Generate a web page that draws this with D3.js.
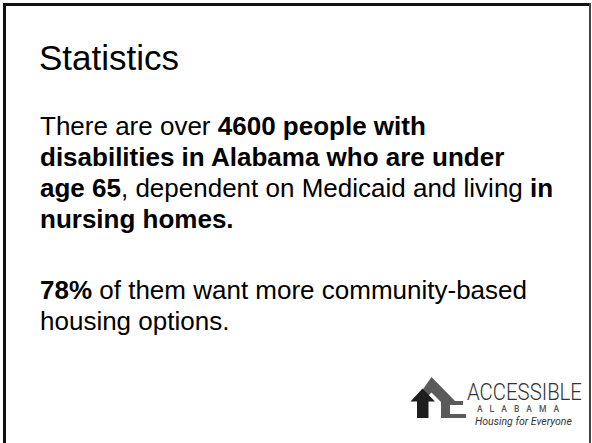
<!DOCTYPE html>
<html><head><meta charset="utf-8">
<script src="https://cdn.jsdelivr.net/npm/d3@7"></script>
<style>html,body{margin:0;padding:0;background:#fff;overflow:hidden}</style>
</head><body>
<script>
// Slide content (text segments: [text, bold])
const title = "Statistics";
const paragraph1 = [
  [["There are over ", false], ["4600 people with", true]],
  [["disabilities in Alabama who are under", true]],
  [["age 65", true], [", dependent on Medicaid and living ", false], ["in", true]],
  [["nursing homes.", true]]
];
const paragraph2 = [
  [["78%", true], [" of them want more community-based", false]],
  [["housing options.", false]]
];
const logoWords = ["ACCESSIBLE", "ALABAMA", "Housing for Everyone"];

const W = 592, H = 443;
const svg = d3.select("body").append("svg").attr("width", W).attr("height", H);
svg.append("rect").attr("width", W).attr("height", H).attr("fill", "#fff");

// frame
svg.append("line").attr("x1", 4.5).attr("x2", 4.5).attr("y1", 3).attr("y2", H).attr("stroke", "#111").attr("stroke-width", 3);
svg.append("line").attr("x1", 3).attr("x2", 591).attr("y1", 4.5).attr("y2", 4.5).attr("stroke", "#111").attr("stroke-width", 3);
svg.append("line").attr("x1", 590).attr("x2", 590).attr("y1", 3).attr("y2", H).attr("stroke", "#444").attr("stroke-width", 2);

const font = "'Liberation Sans', Arial, sans-serif";
svg.append("text").attr("x", 39).attr("y", 70).attr("font-family", font)
  .attr("font-size", 35).attr("fill", "#000").text(title);

function drawPara(lines, y0, step) {
  lines.forEach((segs, i) => {
    const t = svg.append("text").attr("x", 40).attr("y", y0 + i * step)
      .attr("font-family", font).attr("font-size", 26).attr("fill", "#000");
    segs.forEach(([s, b]) => {
      t.append("tspan").attr("font-weight", b ? "bold" : "normal").text(s);
    });
  });
}
drawPara(paragraph1, 134.5, 31);
drawPara(paragraph2, 298.5, 31);

// logo
const g = svg.append("g");
// gray house (roof chevron + wall + base)
g.append("path").attr("fill", "#5a5a5a")
  .attr("d", "M431.5,377 L455,401 L463,401 L463,405 L450,405 L450,414 L466,414 L466,418 L441,418 L441,402 L431.5,392.5 L424,400 L419,395 Z");
// dark house (arrow shape)
g.append("path").attr("fill", "#1e1e1e")
  .attr("d", "M422.5,388.5 L435,401.5 L428.5,401.5 L428.5,418 L417,418 L417,401.5 L410.5,401.5 Z");

// ACCESSIBLE: condensed by horizontal scaling to fit x 467..582
const acc = g.append("g");
const accText = acc.append("text").attr("x", 0).attr("y", 0)
  .attr("font-family", "Roboto, 'DejaVu Sans', sans-serif").attr("font-weight", 300)
  .attr("font-size", 23.5).attr("fill", "#333").text(logoWords[0]);
const natW = accText.node().getComputedTextLength() || 130;
acc.attr("transform", `translate(467,400) scale(${115 / natW},1)`);

g.append("text").attr("x", 521.5).attr("y", 412).attr("text-anchor", "middle")
  .attr("font-family", "Roboto, 'DejaVu Sans', sans-serif").attr("font-weight", 500)
  .attr("font-size", 8.5).attr("fill", "#555").attr("letter-spacing", 7)
  .text(logoWords[1]);
const hs = g.append("g");
const hsText = hs.append("text").attr("x", 0).attr("y", 0)
  .attr("font-family", "Roboto, 'DejaVu Sans', sans-serif").attr("font-style", "italic")
  .attr("font-size", 11).attr("fill", "#333").text(logoWords[2]);
const hsW = hsText.node().getComputedTextLength() || 100;
hs.attr("transform", `translate(475,425) scale(${97 / hsW},1)`);
</script>
</body></html>
